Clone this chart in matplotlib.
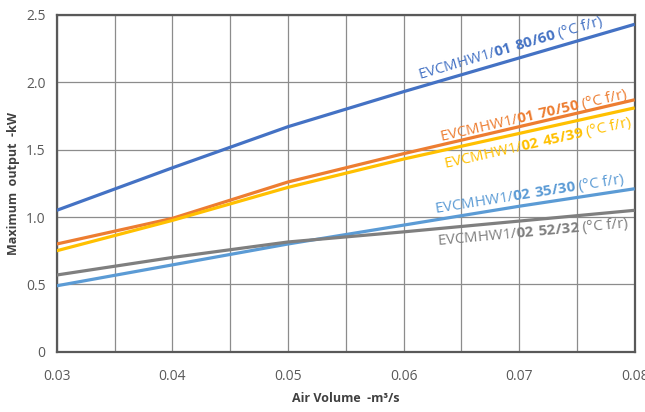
import matplotlib
matplotlib.use("Agg")
import matplotlib.pyplot as plt

plt.rcParams['font.family'] = ['Open Sans', 'DejaVu Sans']
plt.rcParams['mathtext.fontset'] = 'custom'
plt.rcParams['mathtext.rm'] = 'Open Sans'
plt.rcParams['mathtext.bf'] = 'Open Sans:bold'

# data
air_volume = [0.03, 0.04, 0.05, 0.06, 0.07, 0.08]
out_80_60 = [1.05, 1.365, 1.67, 1.93, 2.18, 2.43]
out_70_50 = [0.80, 0.99, 1.26, 1.47, 1.67, 1.87]
out_45_39 = [0.75, 0.975, 1.22, 1.43, 1.62, 1.81]
out_35_30 = [0.49, 0.645, 0.80, 0.94, 1.08, 1.21]
out_52_32 = [0.57, 0.70, 0.815, 0.89, 0.97, 1.05]

series = [
    (out_80_60, '#4472C4', '01 80/60'),
    (out_70_50, '#ED7D31', '01 70/50'),
    (out_45_39, '#FFC000', '02 45/39'),
    (out_35_30, '#5B9BD5', '02 35/30'),
    (out_52_32, '#7F7F7F', '02 52/32'),
]

# label placement: (x, y, rotation, vertical align)
label_pos = [
    (0.0615, 1.99, 16.5, 'bottom'),
    (0.0633, 1.53, 13.0, 'bottom'),
    (0.0633, 1.46, 12.7, 'top'),
    (0.0628, 0.99, 9.0, 'bottom'),
    (0.0628, 0.89, 5.3, 'top'),
]

fig = plt.figure(figsize=(6.45, 4.12), dpi=100)
ax = fig.add_axes([0.088, 0.146, 0.896, 0.818])

for (vals, col, name), (lx, ly, rot, va) in zip(series, label_pos):
    ax.plot(air_volume, vals, color=col, lw=2.3, solid_capstyle='butt', zorder=3)
    ax.text(lx, ly, 'EVCMHW1/$\\mathbf{' + name.replace(' ', '\\ ') + '}$ (°C f/r)',
            color=col, fontsize=10.8, rotation=rot, rotation_mode='anchor',
            ha='left', va=va, zorder=4)

ax.set_xlim(0.03, 0.08)
ax.set_ylim(0, 2.5)
ax.set_xticks([0.03, 0.04, 0.05, 0.06, 0.07, 0.08])
ax.set_xticklabels(['0.03', '0.04', '0.05', '0.06', '0.07', '0.08'])
ax.set_xticks([0.035, 0.045, 0.055, 0.065, 0.075], minor=True)
ax.set_yticks([0, 0.5, 1.0, 1.5, 2.0, 2.5])
ax.set_yticklabels(['0', '0.5', '1.0', '1.5', '2.0', '2.5'])
ax.grid(True, which='both', color='#8c8c8c', lw=0.9)
ax.tick_params(which='both', length=0, colors='#595959', labelsize=10)
ax.tick_params(axis='x', pad=12)
ax.tick_params(axis='y', pad=8)
for sp in ax.spines.values():
    sp.set_color('#595959')
    sp.set_linewidth(1.6)

ax.set_xlabel('Air Volume  -m³/s', fontsize=9, fontweight='bold', color='#404040', labelpad=6)
ax.set_ylabel('Maximum  output  -kW', fontsize=9, fontweight='bold', color='#404040', labelpad=4)

fig.savefig('out.png', dpi=100)
